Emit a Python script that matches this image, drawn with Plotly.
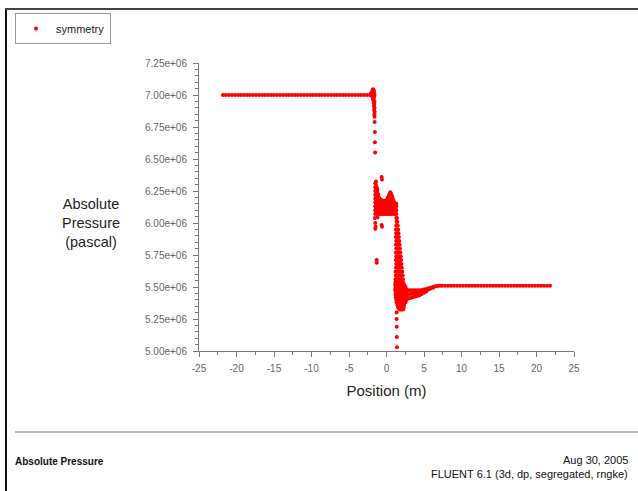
import plotly.graph_objects as go

# ---------------- data (position in m, absolute pressure in 1e6 Pa) ----------------
x_ticks = [-25, -20, -15, -10, -5, 0, 5, 10, 15, 20, 25]
x_tick_labels = ["-25", "-20", "-15", "-10", "-5", "0", "5", "10", "15", "20", "25"]
y_ticks = [5.00e6, 5.25e6, 5.50e6, 5.75e6, 6.00e6, 6.25e6, 6.50e6, 6.75e6, 7.00e6, 7.25e6]
y_tick_labels = ["5.00e+06", "5.25e+06", "5.50e+06", "5.75e+06", "6.00e+06",
                 "6.25e+06", "6.50e+06", "6.75e+06", "7.00e+06", "7.25e+06"]

plateau_left_x = [-21.8, -21.4, -21.0, -20.6, -20.2, -19.8, -19.4, -19.0, -18.6, -18.2,
                  -17.8, -17.4, -17.0, -16.6, -16.2, -15.8, -15.4, -15.0, -14.6, -14.2,
                  -13.8, -13.4, -13.0, -12.6, -12.2, -11.8, -11.4, -11.0, -10.6, -10.2,
                  -9.8, -9.4, -9.0, -8.6, -8.2, -7.8, -7.4, -7.0, -6.6, -6.2,
                  -5.8, -5.4, -5.0, -4.6, -4.2, -3.8, -3.4, -3.0, -2.6, -2.2]
plateau_left_p = 7.00

plateau_right_x = [7.4, 7.8, 8.2, 8.6, 9.0, 9.4, 9.8, 10.2, 10.6, 11.0, 11.4, 11.8, 12.2,
                   12.6, 13.0, 13.4, 13.8, 14.2, 14.6, 15.0, 15.4, 15.8, 16.2, 16.6, 17.0,
                   17.4, 17.8, 18.2, 18.6, 19.0, 19.4, 19.8, 20.2, 20.6, 21.0, 21.4, 21.8]
plateau_right_p = 5.51

drop1_x = [-2.1, -2.0, -1.95, -1.9, -1.85, -1.8, -1.75, -1.7, -1.65, -2.0, -1.9, -1.8,
           -1.7, -1.6, -1.85, -1.75, -1.65, -1.8, -1.7, -1.6, -1.72, -1.62, -1.68, -1.6,
           -1.65, -1.58, -1.62, -1.6, -1.58, -1.55, -1.55, -1.52]
drop1_p = [7.01, 7.015, 7.02, 7.03, 7.04, 7.045, 7.04, 7.035, 7.02, 6.995, 7.0, 7.01,
           7.01, 7.0, 6.985, 6.98, 6.985, 6.965, 6.96, 6.95, 6.94, 6.93, 6.915, 6.9,
           6.885, 6.87, 6.85, 6.83, 6.79, 6.71, 6.63, 6.55]

cloud_col_x = [-1.5, -1.4, -1.3, -1.2, -1.1, -1.0, -0.9, -0.8, -0.7, -0.6, -0.5, -0.4,
               -0.3, -0.2, -0.1, 0.0, 0.1, 0.2, 0.3, 0.4, 0.5, 0.6, 0.7, 0.8, 0.9, 1.0,
               1.1, 1.2, 1.3]
cloud_col_p = [
    [6.07, 6.10, 6.13, 6.16, 6.19, 6.22, 6.25, 6.28, 6.31],
    [6.085, 6.115, 6.145, 6.175, 6.205, 6.235, 6.265, 6.295, 6.325],
    [6.07, 6.10, 6.13, 6.16, 6.19, 6.22, 6.25, 6.28],
    [6.085, 6.115, 6.145, 6.175, 6.205, 6.235, 6.26],
    [6.07, 6.10, 6.13, 6.16, 6.19, 6.22],
    [6.085, 6.115, 6.145, 6.175, 6.20],
    [6.07, 6.10, 6.13, 6.16, 6.19],
    [6.085, 6.115, 6.145, 6.175],
    [6.07, 6.10, 6.13, 6.16, 6.18],
    [6.085, 6.115, 6.145, 6.175],
    [6.07, 6.10, 6.13, 6.16],
    [6.085, 6.115, 6.145, 6.17],
    [6.07, 6.10, 6.13, 6.16],
    [6.085, 6.115, 6.145, 6.17],
    [6.07, 6.10, 6.13, 6.16, 6.175],
    [6.085, 6.115, 6.145, 6.175],
    [6.07, 6.10, 6.13, 6.16, 6.185],
    [6.085, 6.115, 6.145, 6.175, 6.20],
    [6.07, 6.10, 6.13, 6.16, 6.19, 6.21],
    [6.085, 6.115, 6.145, 6.175, 6.205, 6.225],
    [6.07, 6.10, 6.13, 6.16, 6.19, 6.22, 6.24],
    [6.085, 6.115, 6.145, 6.175, 6.205, 6.23],
    [6.07, 6.10, 6.13, 6.16, 6.19, 6.215],
    [6.085, 6.115, 6.145, 6.175, 6.20],
    [6.07, 6.10, 6.13, 6.16, 6.18],
    [6.085, 6.115, 6.145, 6.165],
    [6.07, 6.10, 6.13, 6.155],
    [6.085, 6.115, 6.145],
    [6.07, 6.10, 6.13, 6.15],
]

drop2_row_p = [6.04, 6.01, 5.98, 5.95, 5.92, 5.89, 5.86, 5.83, 5.80, 5.77, 5.74, 5.71,
               5.68, 5.65, 5.62, 5.59, 5.56]
drop2_row_x = [
    [1.3, 1.4], [1.35, 1.45], [1.3, 1.5], [1.25, 1.4, 1.55], [1.3, 1.5, 1.6],
    [1.25, 1.45, 1.65], [1.3, 1.5, 1.7], [1.25, 1.45, 1.6, 1.75], [1.3, 1.5, 1.7, 1.8],
    [1.25, 1.45, 1.65, 1.85], [1.3, 1.5, 1.7, 1.9], [1.25, 1.45, 1.65, 1.85, 1.95],
    [1.3, 1.5, 1.7, 1.9, 2.0], [1.25, 1.45, 1.65, 1.85, 2.05],
    [1.2, 1.4, 1.6, 1.8, 2.0, 2.1], [1.25, 1.45, 1.65, 1.85, 2.05, 2.15],
    [1.2, 1.4, 1.6, 1.8, 2.0, 2.2],
]

blob_row_p = [5.54, 5.52, 5.50, 5.48, 5.46, 5.44, 5.42, 5.40, 5.38, 5.36, 5.34, 5.325]
blob_row_x = [
    [1.2, 1.4, 1.6, 1.8, 2.0, 2.2],
    [1.15, 1.3, 1.45, 1.6, 1.75, 1.9, 2.05, 2.2, 2.35],
    [1.2, 1.35, 1.5, 1.65, 1.8, 1.95, 2.1, 2.25, 2.4, 2.55],
    [1.15, 1.3, 1.45, 1.6, 1.75, 1.9, 2.05, 2.2, 2.35, 2.5, 2.65],
    [1.2, 1.35, 1.5, 1.65, 1.8, 1.95, 2.1, 2.25, 2.4, 2.55, 2.7],
    [1.2, 1.35, 1.5, 1.65, 1.8, 1.95, 2.1, 2.25, 2.4, 2.55, 2.7],
    [1.25, 1.4, 1.55, 1.7, 1.85, 2.0, 2.15, 2.3, 2.45, 2.6, 2.75],
    [1.3, 1.45, 1.6, 1.75, 1.9, 2.05, 2.2, 2.35, 2.5, 2.65],
    [1.35, 1.5, 1.65, 1.8, 1.95, 2.1, 2.25, 2.4, 2.55],
    [1.45, 1.6, 1.75, 1.9, 2.05, 2.2, 2.35],
    [1.55, 1.7, 1.85, 2.0, 2.15, 2.3],
    [1.75, 1.9, 2.05, 2.2],
]

recovery_x = [2.9, 3.2, 3.5, 3.8, 4.1, 4.4, 4.7, 5.0, 5.3, 5.6, 5.9, 6.2, 6.5, 6.8, 7.1,
              2.9, 3.2, 3.5, 3.8, 4.1, 4.4, 4.7, 5.0, 5.3, 5.6, 5.9, 6.2,
              2.9, 3.2, 3.5, 3.8, 4.1, 4.4, 4.7, 5.0, 5.3]
recovery_p = [5.475, 5.475, 5.475, 5.475, 5.475, 5.475, 5.477, 5.48, 5.485, 5.49, 5.495,
              5.50, 5.505, 5.508, 5.51,
              5.443, 5.445, 5.447, 5.45, 5.452, 5.455, 5.46, 5.465, 5.47, 5.48, 5.488, 5.495,
              5.41, 5.415, 5.42, 5.425, 5.43, 5.435, 5.445, 5.455, 5.465]

stray_x = [-0.65, -0.6, -1.55, -1.5, -1.45, -1.5, -1.2, -0.65, -0.6, -1.3, -1.3,
           1.35, 1.35, 1.37, 1.38, 1.4]
stray_p = [6.36, 6.34, 6.04, 6.0, 5.97, 5.955, 6.045, 5.985, 5.97, 5.71, 5.69,
           5.30, 5.25, 5.19, 5.11, 5.03]

assert len(drop1_x) == len(drop1_p)
assert len(cloud_col_x) == len(cloud_col_p)
assert len(drop2_row_p) == len(drop2_row_x)
assert len(blob_row_p) == len(blob_row_x)
assert len(recovery_x) == len(recovery_p)
assert len(stray_x) == len(stray_p)

# ---------------- assemble the node list ----------------
xs, ps = [], []
xs += plateau_left_x; ps += [plateau_left_p] * len(plateau_left_x)
xs += drop1_x; ps += drop1_p
for cx, col in zip(cloud_col_x, cloud_col_p):
    xs += [cx] * len(col); ps += col
for rp, row in zip(drop2_row_p, drop2_row_x):
    xs += row; ps += [rp] * len(row)
for rp, row in zip(blob_row_p, blob_row_x):
    xs += row; ps += [rp] * len(row)
xs += recovery_x; ps += recovery_p
xs += stray_x; ps += stray_p
xs += plateau_right_x; ps += [plateau_right_p] * len(plateau_right_x)
ys = [v * 1e6 for v in ps]

# ---------------- layout geometry (pixels) ----------------
W, H = 638, 491
PL, PR, PT, PB = 199, 574, 63, 351


def fx(px):
    return (px - PL) / (PR - PL)


def fy(py):
    return (PB - py) / (PB - PT)


FONT = "Liberation Sans, Arial, sans-serif"
AXC = "#777777"

fig = go.Figure()
fig.add_trace(go.Scatter(
    x=xs, y=ys, mode="markers", name="symmetry",
    marker=dict(color="#ff0000", size=4, symbol="circle", line=dict(width=0)),
    showlegend=True,
))

fig.update_layout(
    width=W, height=H,
    margin=dict(l=PL, r=W - PR, t=PT, b=H - PB, autoexpand=False),
    paper_bgcolor="white", plot_bgcolor="white",
    font=dict(family=FONT, color="#222222"),
    showlegend=True,
    legend=dict(
        xref="container", yref="container",
        x=15 / W, y=1 - 13 / H, xanchor="left", yanchor="top",
        bgcolor="white", bordercolor="#999999", borderwidth=1,
        font=dict(family=FONT, size=11, color="#222222"),
        entrywidth=88, entrywidthmode="pixels",
        itemsizing="trace",
    ),
    xaxis=dict(
        range=[-25, 25], tickmode="array", tickvals=x_ticks, ticktext=x_tick_labels,
        ticks="outside", ticklen=5, tickcolor=AXC, tickwidth=1,
        showline=True, linecolor=AXC, linewidth=1,
        showgrid=False, zeroline=False,
        tickfont=dict(family=FONT, size=10, color="#666666"),
        ticklabelstandoff=3,
        minor=dict(tickmode="linear", tick0=-25, dtick=2.5, ticks="outside",
                   ticklen=3, tickcolor=AXC, showgrid=False),
        title=dict(text="Position (m)", font=dict(family=FONT, size=15, color="#222222"),
                   standoff=12),
    ),
    yaxis=dict(
        range=[5.0e6, 7.25e6], tickmode="array", tickvals=y_ticks, ticktext=y_tick_labels,
        ticks="outside", ticklen=5, tickcolor=AXC, tickwidth=1,
        showline=True, linecolor=AXC, linewidth=1,
        showgrid=False, zeroline=False,
        tickfont=dict(family=FONT, size=10, color="#666666"),
        ticklabelstandoff=4,
        minor=dict(tickmode="linear", tick0=5.0e6, dtick=0.05e6, ticks="outside",
                   ticklen=3, tickcolor=AXC, showgrid=False),
    ),
)

# frame lines of the hardcopy
fig.add_shape(type="line", xref="paper", yref="paper",
              x0=fx(6), x1=fx(6), y0=fy(8), y1=fy(H + 2),
              line=dict(color="#111111", width=2))
fig.add_shape(type="line", xref="paper", yref="paper",
              x0=fx(5), x1=fx(W + 2), y0=fy(9), y1=fy(9),
              line=dict(color="#444444", width=2))
fig.add_shape(type="line", xref="paper", yref="paper",
              x0=fx(15), x1=fx(W + 2), y0=fy(432), y1=fy(432),
              line=dict(color="#bbbbbb", width=2))

# y-axis title (horizontal, three lines)
fig.add_annotation(xref="paper", yref="paper", x=fx(91), y=fy(223),
                   text="Absolute<br>Pressure<br>(pascal)", showarrow=False,
                   xanchor="center", yanchor="middle", align="center",
                   font=dict(family=FONT, size=14.5, color="#222222"))

# footer
fig.add_annotation(xref="paper", yref="paper", x=fx(13), y=fy(461),
                   text="<b>Absolute Pressure</b>", showarrow=False,
                   xanchor="left", yanchor="middle",
                   font=dict(family=FONT, size=10, color="#111111"))
fig.add_annotation(xref="paper", yref="paper", x=fx(630), y=fy(460),
                   text="Aug 30, 2005", showarrow=False,
                   xanchor="right", yanchor="middle",
                   font=dict(family=FONT, size=11, color="#111111"))
fig.add_annotation(xref="paper", yref="paper", x=fx(630), y=fy(474),
                   text="FLUENT 6.1 (3d, dp, segregated, rngke)", showarrow=False,
                   xanchor="right", yanchor="middle",
                   font=dict(family=FONT, size=11, color="#111111"))

fig.write_html("out.html", config={"displayModeBar": False},
               post_script="document.body.style.margin='0';")
